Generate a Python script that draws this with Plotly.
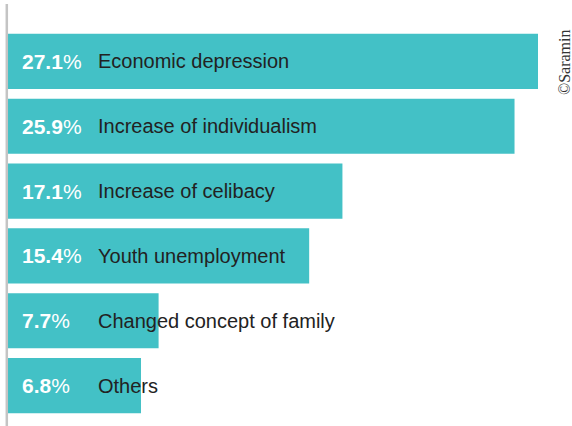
import plotly.graph_objects as go

categories = ["Economic depression", "Increase of individualism", "Increase of celibacy",
              "Youth unemployment", "Changed concept of family", "Others"]
values = [27.1, 25.9, 17.1, 15.4, 7.7, 6.8]

BAR = "#43c1c6"
W, H = 572, 426
ML, MR, MT, MB = 8, 34, 29, 8

fig = go.Figure()
fig.add_trace(go.Bar(
    x=values, y=categories, orientation="h",
    marker=dict(color=BAR, line=dict(width=0)),
    hoverinfo="skip",
))

for c, v in zip(categories, values):
    fig.add_annotation(x=0, y=c, xref="x", yref="y", xanchor="left", yanchor="middle",
                       xshift=12, text=f"<b>{v}</b>%", showarrow=False,
                       font=dict(family="Liberation Sans, Arial", size=21, color="white"))
    fig.add_annotation(x=0, y=c, xref="x", yref="y", xanchor="left", yanchor="middle",
                       xshift=88, text=c, showarrow=False,
                       font=dict(family="Liberation Sans, Arial", size=20, color="#222222"))

pw = W - ML - MR
ph = H - MT - MB
fig.add_annotation(x=(565 - ML) / pw, y=(H - MB - 63) / ph, xref="paper", yref="paper",
                   xanchor="center", yanchor="middle", textangle=-90,
                   text="©Saramin", showarrow=False,
                   font=dict(family="Liberation Serif, Times New Roman", size=16, color="#333333"))

fig.add_shape(type="line", xref="paper", yref="paper",
              x0=-1.2 / pw, x1=-1.2 / pw, y0=-(MB + 2) / ph, y1=1 + (MT - 4) / ph,
              line=dict(color="#c4c4c4", width=2.5))

fig.update_layout(
    width=W, height=H,
    margin=dict(l=ML, r=MR, t=MT, b=MB),
    paper_bgcolor="white", plot_bgcolor="white",
    bargap=0.15,
    showlegend=False,
    xaxis=dict(range=[0, 27.1], visible=False, fixedrange=True),
    yaxis=dict(autorange="reversed", visible=False, fixedrange=True),
)

fig.write_html("out.html")
